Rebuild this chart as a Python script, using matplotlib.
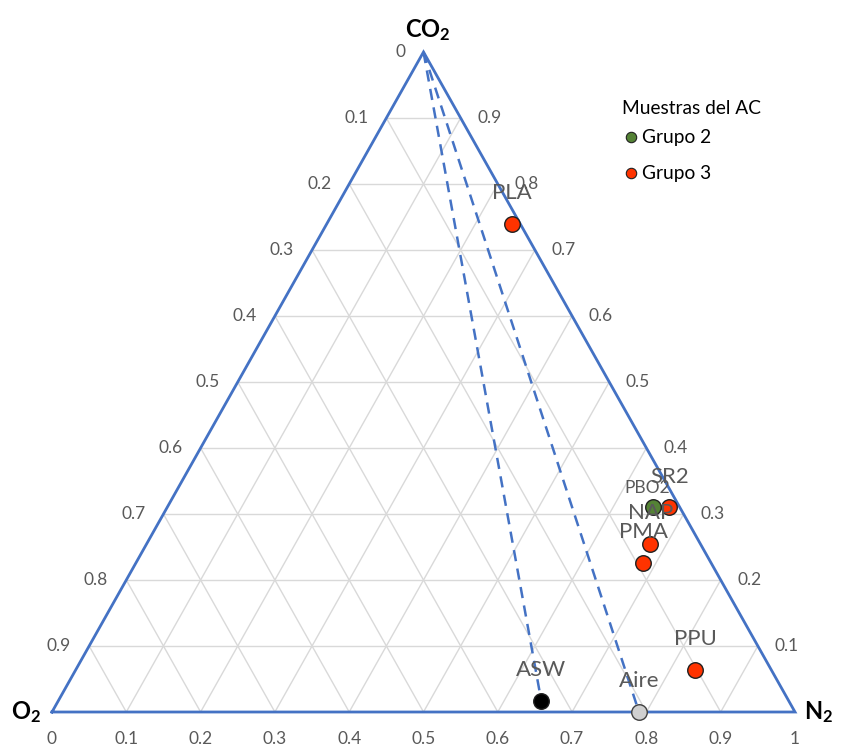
import matplotlib.pyplot as plt
import numpy as np

plt.rcParams['font.family'] = ['Lato', 'DejaVu Sans']
plt.rcParams['mathtext.fontset'] = 'custom'
plt.rcParams['mathtext.rm'] = 'Lato'
plt.rcParams['mathtext.bf'] = 'Lato:bold'

# sample compositions (fractions of CO2 and N2, O2 is the rest)
names = ['PLA', 'PBO2', 'SR2', 'NAP', 'PMA', 'PPU', 'ASW', 'Aire']
co2 = [0.74, 0.31, 0.31, 0.255, 0.226, 0.064, 0.017, 0.0]
n2 = [0.249, 0.654, 0.676, 0.678, 0.683, 0.834, 0.650, 0.79]
groups = ['Grupo 3', 'Grupo 2', 'Grupo 3', 'Grupo 3', 'Grupo 3', 'Grupo 3', 'ref', 'ref']

# dashed mixing lines: from the CO2 apex to these samples
mix_to = ['ASW', 'Aire']

ticks = [0.1 * k for k in range(11)]

BLUE = '#4472C4'
GRID = '#D9D9D9'
TXT = '#595959'
face = {'Grupo 2': '#548235', 'Grupo 3': '#FF3300'}
ref_face = {'ASW': '#000000', 'Aire': '#D0D0D0'}


def xy(c, n):
    # cartesian position inside the triangle
    return n + c / 2.0, c


fig = plt.figure(figsize=(8.43, 7.48), dpi=100)
ax = fig.add_axes([0, 0, 1, 1])
ax.set_xlim(-52 / 743, 1 + 48 / 743)
ax.set_ylim(-36 / 660, 1 + 52 / 660)
ax.axis('off')

# grid
for t in ticks[1:-1]:
    for p, q in [((t, 0), (t, 1 - t)), ((0, t), (1 - t, t)), ((0, 1 - t), (1 - t, 0))]:
        x0, y0 = xy(*p)
        x1, y1 = xy(*q)
        ax.plot([x0, x1], [y0, y1], color=GRID, lw=1, zorder=1)

# outline
ax.plot([0, 1, 0.5, 0], [0, 0, 1, 0], color=BLUE, lw=2, zorder=2, solid_joinstyle='miter')

# dashed lines
for nm in mix_to:
    i = names.index(nm)
    px, py = xy(co2[i], n2[i])
    ax.plot([0.5, px], [1, py], color=BLUE, lw=1.8, ls=(0, (4.5, 3)), zorder=2)

# tick labels
for t in ticks:
    # bottom edge: N2 fraction
    ax.annotate(f'{t:g}', xy=(t, 0), xytext=(0, -14), textcoords='offset points',
                ha='center', va='top', fontsize=12.5, color=TXT)
for t in ticks[:-1]:
    # left edge: O2 fraction
    h = 1 - t
    ax.annotate(f'{t:g}', xy=(h / 2, h), xytext=(-13, 0), textcoords='offset points',
                ha='right', va='center', fontsize=12.5, color=TXT)
for t in ticks[1:-1]:
    # right edge: CO2 fraction
    ax.annotate(f'{t:g}', xy=(1 - t / 2, t), xytext=(12, 0), textcoords='offset points',
                ha='left', va='center', fontsize=12.5, color=TXT)

# vertex labels
ax.annotate(r'$\mathbf{CO_2}$', xy=(0.5, 1), xytext=(3, 16), textcoords='offset points',
            ha='center', va='center', fontsize=17)
ax.annotate(r'$\mathbf{O_2}$', xy=(0, 0), xytext=(-19, 0), textcoords='offset points',
            ha='center', va='center', fontsize=17)
ax.annotate(r'$\mathbf{N_2}$', xy=(1, 0), xytext=(17, 0), textcoords='offset points',
            ha='center', va='center', fontsize=17)

# points
for nm, c, n, g in zip(names, co2, n2, groups):
    px, py = xy(c, n)
    fc = face[g] if g in face else ref_face[nm]
    ec = '#404040' if nm == 'Aire' else '#202020'
    ax.scatter(px, py, s=125, color=fc, edgecolor=ec, linewidth=1, zorder=4)
    fs = 12.5 if nm == 'PBO2' else 16
    dy = 14 if nm == 'PBO2' else 22
    ax.annotate(nm, xy=(px, py), xytext=(-4 if nm == 'PBO2' else 0, dy),
                textcoords='offset points', ha='center', va='center',
                fontsize=fs, color=TXT, zorder=5)

# legend
fig.text(622 / 843, 1 - 108 / 748, 'Muestras del AC', ha='left', va='center', fontsize=13.8)
for k, g in enumerate(['Grupo 2', 'Grupo 3']):
    yy = 1 - (137 + 36 * k) / 748
    fig.add_artist(plt.Line2D([631 / 843], [yy], marker='o', markersize=7.5,
                              markerfacecolor=face[g], markeredgecolor='#202020',
                              markeredgewidth=0.8, transform=fig.transFigure))
    fig.text(642 / 843, yy, g, ha='left', va='center', fontsize=13.8)

fig.savefig('out.png', dpi=100)
